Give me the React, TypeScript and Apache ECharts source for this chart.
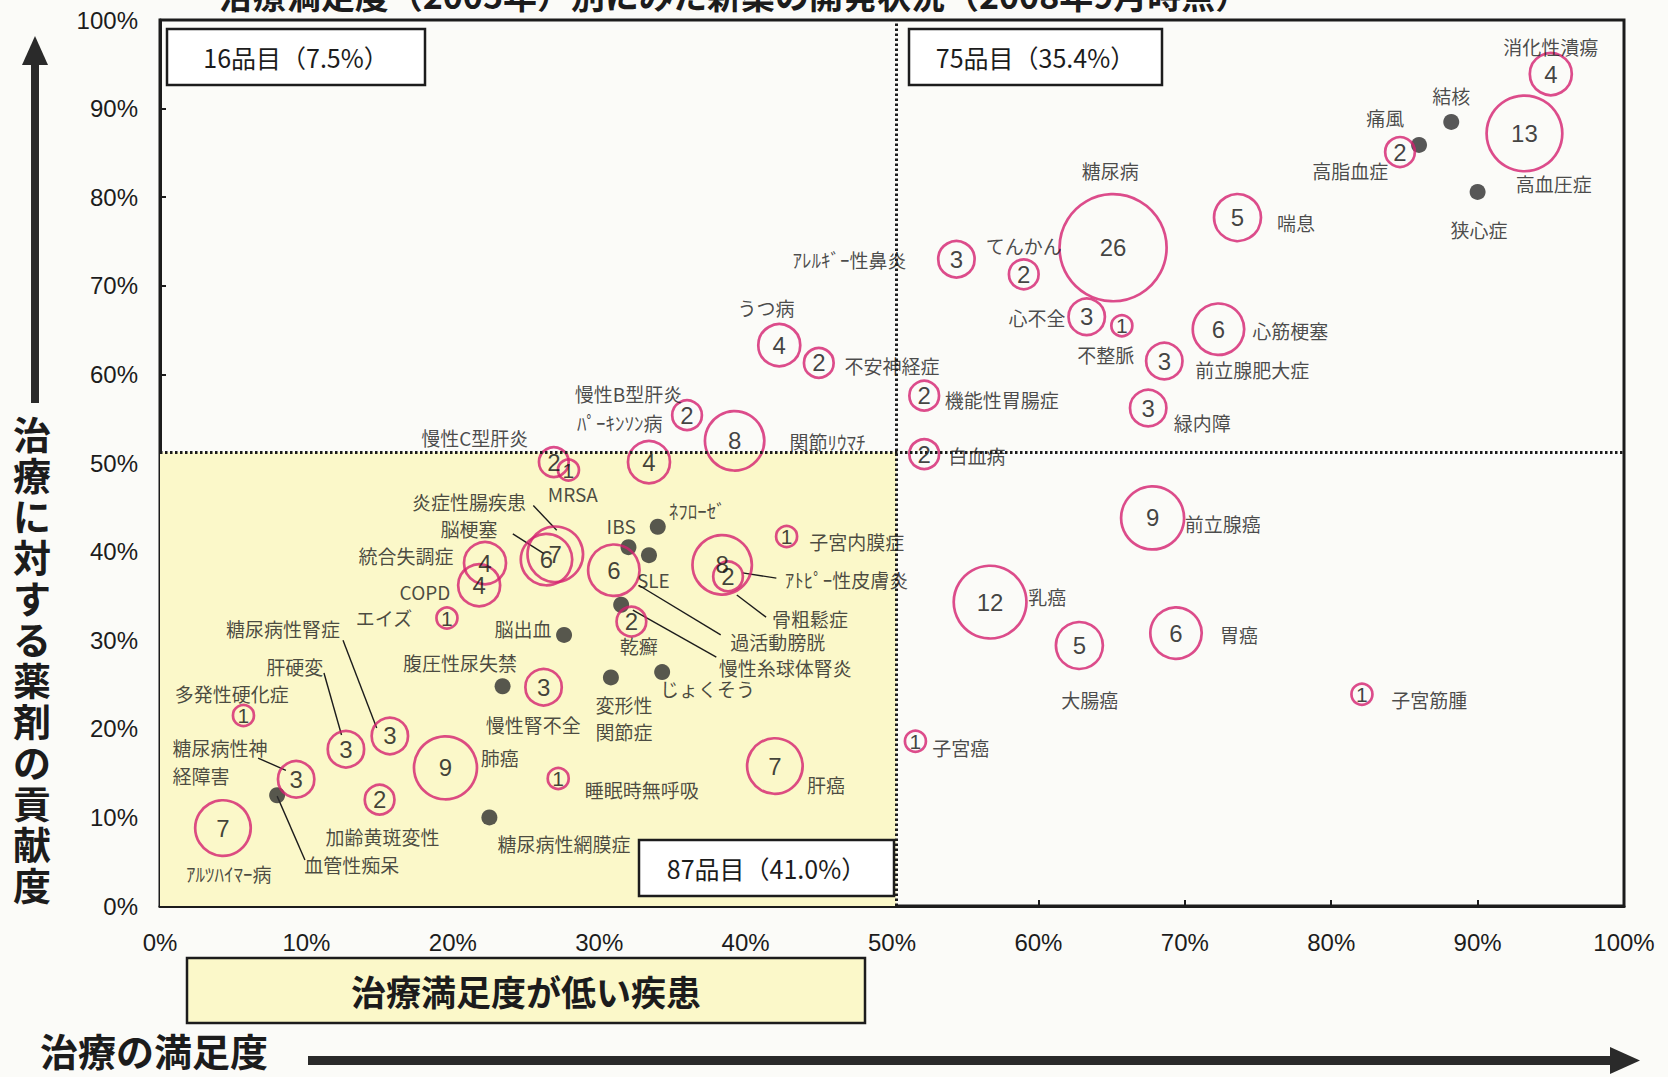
import React, { useEffect, useRef } from "react";
import * as echarts from "echarts";

const FONT_JP = "'Noto Sans CJK JP', 'Noto Sans', sans-serif";
const FONT_NUM = "'Liberation Sans', Arial, sans-serif";

const TITLE = "治療満足度（2005年）別にみた新薬の開発状況（2008年9月時点）";
const Y_TITLE = "治療に対する薬剤の貢献度";
const X_TITLE = "治療の満足度";
const LOW_SATISFACTION = "治療満足度が低い疾患";
const QUADRANT_COUNTS = ["16品目（7.5%）", "75品目（35.4%）", "87品目（41.0%）"];

const THRESHOLD_X = 50.3;
const THRESHOLD_Y = 51.2;

// [disease, treatment satisfaction %, drug contribution %, number of drugs in development]
const bubbles: [string, number, number, number][] = [
  ["消化性潰瘍", 95.0, 93.9, 4],
  ["痛風", 84.7, 85.1, 2],
  ["高血圧症", 93.2, 87.2, 13],
  ["糖尿病", 65.1, 74.3, 26],
  ["喘息", 73.6, 77.7, 5],
  ["てんかん", 59.0, 71.3, 2],
  ["アレルギー性鼻炎", 54.4, 73.0, 3],
  ["心不全", 63.3, 66.5, 3],
  ["不整脈", 65.7, 65.5, 1],
  ["心筋梗塞", 72.3, 65.1, 6],
  ["前立腺肥大症", 68.6, 61.5, 3],
  ["緑内障", 67.5, 56.2, 3],
  ["機能性胃腸症", 52.2, 57.6, 2],
  ["白血病", 52.2, 51.0, 2],
  ["うつ病", 42.3, 63.3, 4],
  ["不安神経症", 45.0, 61.3, 2],
  ["慢性B型肝炎", 36.0, 55.4, 2],
  ["関節リウマチ", 39.25, 52.5, 8],
  ["慢性C型肝炎", 26.9, 50.1, 2],
  ["MRSA", 27.9, 49.2, 1],
  ["パーキンソン病", 33.4, 50.1, 4],
  ["炎症性腸疾患", 27.0, 39.7, 7],
  ["脳梗塞", 26.4, 39.1, 6],
  ["統合失調症", 22.2, 38.7, 4],
  ["COPD", 21.8, 36.2, 4],
  ["エイズ", 19.6, 32.5, 1],
  ["過活動膀胱", 31.0, 37.9, 6],
  ["骨粗鬆症", 38.4, 38.5, 8],
  ["アトピー性皮膚炎", 38.8, 37.2, 2],
  ["子宮内膜症", 42.8, 41.7, 1],
  ["乾癬", 32.2, 32.1, 2],
  ["慢性腎不全", 26.2, 24.7, 3],
  ["睡眠時無呼吸", 27.2, 14.4, 1],
  ["肝癌", 42.0, 15.8, 7],
  ["肺癌", 19.5, 15.6, 9],
  ["加齢黄斑変性", 15.0, 12.0, 2],
  ["糖尿病性腎症", 15.7, 19.2, 3],
  ["肝硬変", 12.7, 17.7, 3],
  ["多発性硬化症", 5.7, 21.5, 1],
  ["糖尿病性神経障害", 9.3, 14.3, 3],
  ["アルツハイマー病", 4.3, 8.8, 7],
  ["前立腺癌", 67.8, 43.8, 9],
  ["乳癌", 56.7, 34.3, 12],
  ["大腸癌", 62.8, 29.4, 5],
  ["胃癌", 69.4, 30.8, 6],
  ["子宮筋腫", 82.1, 23.9, 1],
  ["子宮癌", 51.6, 18.6, 1],
];

// diseases with no drug in development
const noDrugDiseases: [string, number, number][] = [
  ["結核", 88.2, 88.5],
  ["高脂血症", 86.0, 85.9],
  ["狭心症", 90.0, 80.6],
  ["ネフローゼ", 34.0, 42.8],
  ["IBS", 32.0, 40.5],
  ["SLE", 33.4, 39.6],
  ["慢性糸球体腎炎", 31.5, 34.0],
  ["脳出血", 27.6, 30.6],
  ["腹圧性尿失禁", 23.4, 24.8],
  ["変形性関節症", 30.8, 25.8],
  ["じょくそう", 34.3, 26.4],
  ["糖尿病性網膜症", 22.5, 10.0],
  ["血管性痴呆", 8.0, 12.5],
];

// name labels anchored in data space (centre of text)
const diseaseLabels: [string, number, number][] = [
  ["消化性潰瘍", 95.0, 97.0],
  ["結核", 88.2, 91.5],
  ["痛風", 83.7, 89.0],
  ["高脂血症", 81.3, 83.0],
  ["高血圧症", 95.2, 81.5],
  ["狭心症", 90.1, 76.3],
  ["糖尿病", 64.9, 83.0],
  ["喘息", 77.6, 77.2],
  ["てんかん", 59.0, 74.6],
  ["ｱﾚﾙｷﾞｰ性鼻炎", 47.1, 73.0],
  ["心不全", 59.9, 66.4],
  ["不整脈", 64.6, 62.2],
  ["心筋梗塞", 77.2, 64.9],
  ["前立腺肥大症", 74.6, 60.6],
  ["緑内障", 71.2, 54.6],
  ["機能性胃腸症", 57.5, 57.2],
  ["白血病", 55.8, 50.8],
  ["うつ病", 41.4, 67.6],
  ["不安神経症", 50.0, 61.0],
  ["慢性B型肝炎", 32.0, 57.8],
  ["ﾊﾟｰｷﾝｿﾝ病", 31.4, 54.6],
  ["関節ﾘｳﾏﾁ", 45.6, 52.4],
  ["慢性C型肝炎", 21.5, 52.9],
  ["MRSA", 28.2, 46.6],
  ["炎症性腸疾患", 21.1, 45.6],
  ["脳梗塞", 21.1, 42.6],
  ["統合失調症", 16.8, 39.6],
  ["COPD", 18.1, 35.5],
  ["エイズ", 15.3, 32.6],
  ["ﾈﾌﾛｰｾﾞ", 36.7, 44.6],
  ["IBS", 31.5, 43.0],
  ["SLE", 33.7, 36.9],
  ["子宮内膜症", 47.6, 41.1],
  ["ｱﾄﾋﾟｰ性皮膚炎", 46.9, 36.8],
  ["骨粗鬆症", 44.4, 32.5],
  ["過活動膀胱", 42.2, 29.9],
  ["慢性糸球体腎炎", 42.7, 26.9],
  ["乾癬", 32.7, 29.4],
  ["脳出血", 24.8, 31.3],
  ["腹圧性尿失禁", 20.5, 27.5],
  ["慢性腎不全", 25.5, 20.5],
  ["変形性", 31.7, 22.7],
  ["関節症", 31.7, 19.7],
  ["じょくそう", 37.4, 24.5],
  ["睡眠時無呼吸", 32.9, 13.1],
  ["肝癌", 45.5, 13.7],
  ["糖尿病性網膜症", 27.6, 7.0],
  ["肺癌", 23.2, 16.8],
  ["加齢黄斑変性", 15.2, 7.8],
  ["血管性痴呆", 13.1, 4.7],
  ["ｱﾙﾂﾊｲﾏｰ病", 4.7, 3.7],
  ["糖尿病性腎症", 8.4, 31.3],
  ["肝硬変", 9.2, 27.0],
  ["多発性硬化症", 4.9, 24.0],
  ["糖尿病性神", 4.1, 17.9],
  ["経障害", 2.8, 14.7],
  ["前立腺癌", 72.6, 43.2],
  ["乳癌", 60.6, 34.9],
  ["大腸癌", 63.5, 23.3],
  ["胃癌", 73.7, 30.6],
  ["子宮筋腫", 86.7, 23.3],
  ["子宮癌", 54.7, 17.9],
];

// leader lines [x1, y1, x2, y2] in data space
const leaderLines: [number, number, number, number][] = [
  [25.5, 45.2, 27.1, 42.4],
  [24.1, 42.0, 26.2, 39.8],
  [32.7, 36.2, 38.3, 30.6],
  [32.3, 33.4, 38.0, 28.1],
  [39.4, 35.1, 41.4, 32.6],
  [39.8, 37.6, 42.1, 37.0],
  [12.5, 30.0, 14.8, 20.1],
  [11.2, 26.3, 12.4, 19.3],
  [6.7, 16.7, 8.6, 15.3],
  [8.0, 12.4, 9.9, 5.2],
];

const INK = "#1c1c1c";
const MAGENTA = "#d4206f";
const YELLOW = "#fbf8c9";

function box(x: number, y: number, w: number, h: number, text: string, fill: string, fontSize: number, bold = false) {
  return {
    type: "group",
    z: 100,
    children: [
      { type: "rect", z: 100, shape: { x, y, width: w, height: h }, style: { fill, stroke: INK, lineWidth: 2.5 } },
      {
        type: "text",
        z: 101,
        x: x + w / 2,
        y: y + h / 2,
        style: {
          text,
          fill: INK,
          fontSize,
          fontWeight: bold ? "bold" : "normal",
          fontFamily: FONT_JP,
          align: "center",
          verticalAlign: "middle",
        },
      },
    ],
  };
}

export default function App() {
  const ref = useRef<HTMLDivElement>(null);

  useEffect(() => {
    if (!ref.current) return;
    const chart = echarts.init(ref.current, undefined, { renderer: "svg" });

    const axisCommon = {
      type: "value",
      min: 0,
      max: 100,
      interval: 10,
      axisLine: { show: true, onZero: false, lineStyle: { color: INK, width: 3 } },
      axisTick: { show: true, inside: true, length: 6, lineStyle: { color: INK, width: 2 } },
      splitLine: { show: false },
    };

    const option: any = {
      animation: false,
      backgroundColor: "#fbfbf8",
      grid: {
        left: 160,
        right: 44,
        top: 20,
        bottom: 171,
        show: true,
        borderColor: INK,
        borderWidth: 3,
        backgroundColor: "transparent",
      },
      xAxis: {
        ...axisCommon,
        axisLabel: { formatter: "{value}%", color: INK, fontSize: 24, fontFamily: FONT_NUM, margin: 24 },
      },
      yAxis: {
        ...axisCommon,
        axisLabel: { formatter: "{value}%", color: INK, fontSize: 24, fontFamily: FONT_NUM, margin: 22 },
      },
      series: [
        {
          type: "scatter",
          name: "area",
          data: [[0, 0]],
          symbolSize: 0,
          z: 1,
          silent: true,
          markArea: {
            silent: true,
            itemStyle: { color: YELLOW },
            data: [[{ coord: [0, 0] }, { coord: [THRESHOLD_X, THRESHOLD_Y] }]],
          },
          markLine: {
            silent: true,
            symbol: ["none", "none"],
            label: { show: false },
            lineStyle: { color: INK, width: 3, type: [2.5, 2.5] },
            data: [{ xAxis: THRESHOLD_X }, { yAxis: THRESHOLD_Y }],
          },
        },
        {
          type: "lines",
          coordinateSystem: "cartesian2d",
          z: 2,
          silent: true,
          lineStyle: { color: INK, width: 1.4, opacity: 1, curveness: 0 },
          data: leaderLines.map(([x1, y1, x2, y2]) => ({ coords: [[x1, y1], [x2, y2]] })),
        },
        {
          type: "scatter",
          name: "開発品目",
          z: 4,
          data: bubbles.map(([n, x, y, c]) => ({ name: n, value: [x, y, c] })),
          symbolSize: (v: number[]) => 21 * Math.sqrt(v[2]),
          itemStyle: { color: "rgba(0,0,0,0)", borderColor: MAGENTA, borderWidth: 2.7 },
          label: {
            show: true,
            position: "inside",
            formatter: (p: any) => (p.value[2] === 1 ? `{s|1}` : `{n|${p.value[2]}}`),
            rich: {
              n: { color: "#111", fontSize: 24, fontFamily: FONT_NUM },
              s: { color: "#111", fontSize: 21, fontFamily: FONT_NUM },
            },
          },
        },
        {
          type: "scatter",
          name: "開発品目なし",
          z: 3,
          data: noDrugDiseases.map(([n, x, y]) => ({ name: n, value: [x, y] })),
          symbolSize: 16,
          itemStyle: { color: "#2e2e2e" },
        },
        {
          type: "scatter",
          name: "labels",
          z: 5,
          silent: true,
          data: diseaseLabels.map(([t, x, y]) => ({ name: t, value: [x, y] })),
          symbolSize: 1,
          itemStyle: { color: "rgba(0,0,0,0)" },
          label: { show: true, position: "inside", formatter: "{b}", color: INK, fontSize: 19, fontFamily: FONT_JP },
        },
      ],
      graphic: [
        {
          type: "text",
          z: 100,
          x: 734,
          y: -6,
          style: {
            text: TITLE,
            fill: INK,
            fontSize: 34,
            fontWeight: "bold",
            fontFamily: FONT_JP,
            align: "center",
            verticalAlign: "middle",
          },
        },
        // y arrow
        { type: "polygon", z: 100, shape: { points: [[35, 36], [22, 65], [48, 65]] }, style: { fill: "#2a2a2a" } },
        { type: "rect", z: 100, shape: { x: 31, y: 63, width: 8, height: 340 }, style: { fill: "#2a2a2a" } },
        {
          type: "text",
          z: 100,
          x: 32,
          y: 412,
          style: {
            text: Y_TITLE.split("").join("\n"),
            fill: INK,
            fontSize: 38,
            lineHeight: 41,
            fontWeight: "bold",
            fontFamily: FONT_JP,
            align: "center",
            verticalAlign: "top",
          },
        },
        // x title + arrow
        {
          type: "text",
          z: 100,
          x: 40,
          y: 1049,
          style: {
            text: X_TITLE,
            fill: INK,
            fontSize: 38,
            fontWeight: "bold",
            fontFamily: FONT_JP,
            align: "left",
            verticalAlign: "middle",
          },
        },
        { type: "rect", z: 100, shape: { x: 308, y: 1056, width: 1306, height: 9 }, style: { fill: "#2a2a2a" } },
        { type: "polygon", z: 100, shape: { points: [[1610, 1047], [1640, 1060.5], [1610, 1074]] }, style: { fill: "#2a2a2a" } },
        // quadrant boxes
        box(167, 29, 258, 56, QUADRANT_COUNTS[0], "#ffffff", 25),
        box(909, 29, 253, 56, QUADRANT_COUNTS[1], "#ffffff", 25),
        box(639, 840, 255, 56, QUADRANT_COUNTS[2], "#ffffff", 25),
        box(187, 958, 678, 65, LOW_SATISFACTION, YELLOW, 35, true),
      ],
    };

    chart.setOption(option);
    return () => chart.dispose();
  }, []);

  return (
    <div
      ref={ref}
      style={{ position: "absolute", left: 0, top: 0, width: 1668, height: 1077 }}
    />
  );
}
